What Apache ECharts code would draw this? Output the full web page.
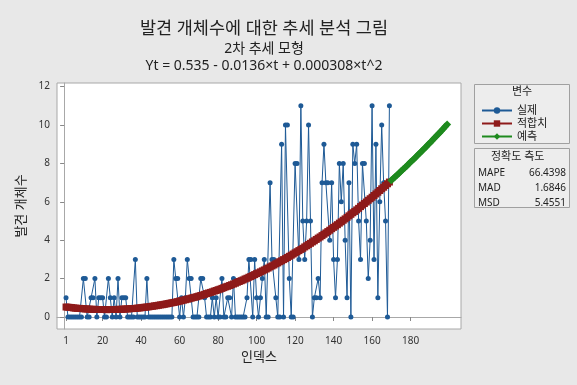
<!DOCTYPE html>
<html><head><meta charset="utf-8">
<script src="https://cdn.jsdelivr.net/npm/echarts@6/dist/echarts.min.js"></script>
<style>html,body{margin:0;padding:0;background:#E8E8E8;}#c{width:577px;height:385px;}</style>
</head><body><div id="c"></div>
<script>
// Observed counts, index 1..169
const actual = [
1,0,0,0,0,0,0,0,0,2, 2,0,0,1,1,2,0,1,1,1, 0,0,2,1,0,1,0,2,0,1,
1,1,0,0,0,0,3,0,0,0, 0,0,2,0,0,0,0,0,0,0, 0,0,0,0,0,0,3,2,2,0,
1,0,1,3,2,2,0,0,0,0, 2,2,1,0,0,0,1,0,1,0, 0,2,0,0,1,1,0,2,0,0,
0,0,0,0,1,3,3,0,3,1, 0,1,2,3,0,0,7,3,3,1, 0,0,9,0,10,10,2,0,0,8,
8,3,11,5,3,5,10,5,0,1, 1,2,1,7,9,7,7,4,7,3, 1,3,8,6,8,4,1,7,0,9,
8,9,5,3,8,8,5,2,4,11, 3,9,1,6,10,7,5,0,11
];
// Fitted trend values, index 1..169
const fitted = [
0.52,0.51,0.50,0.49,0.47,0.46,0.45,0.45,0.44,0.43,0.42,0.42,0.41,0.40,0.40,0.40,0.39,0.39,0.39,0.39,
0.39,0.38,0.39,0.39,0.39,0.39,0.39,0.40,0.40,0.40,0.41,0.42,0.42,0.43,0.44,0.44,0.45,0.46,0.47,0.48,
0.50,0.51,0.52,0.53,0.55,0.56,0.58,0.59,0.61,0.63,0.64,0.66,0.68,0.70,0.72,0.74,0.76,0.78,0.80,0.83,
0.85,0.88,0.90,0.93,0.95,0.98,1.01,1.03,1.06,1.09,1.12,1.15,1.18,1.22,1.25,1.28,1.31,1.35,1.38,1.42,
1.45,1.49,1.53,1.57,1.60,1.64,1.68,1.72,1.76,1.81,1.85,1.89,1.93,1.98,2.02,2.07,2.11,2.16,2.21,2.26,
2.30,2.35,2.40,2.45,2.50,2.55,2.61,2.66,2.71,2.77,2.82,2.88,2.93,2.99,3.04,3.10,3.16,3.22,3.28,3.34,
3.40,3.46,3.52,3.58,3.65,3.71,3.78,3.84,3.91,3.97,4.04,4.11,4.17,4.24,4.31,4.38,4.45,4.52,4.60,4.67,
4.74,4.81,4.89,4.96,5.04,5.11,5.19,5.27,5.35,5.43,5.50,5.58,5.66,5.75,5.83,5.91,5.99,6.08,6.16,6.24,
6.33,6.41,6.50,6.59,6.68,6.76,6.85,6.94,7.03
];
// Forecasts, index 170..199
const forecast = [
7.12,7.22,7.31,7.40,7.49,7.59,7.68,7.78,7.87,7.97,8.07,8.16,8.26,8.36,8.46,8.56,8.66,8.76,8.86,8.97,
9.07,9.17,9.28,9.38,9.49,9.59,9.70,9.81,9.92,10.03
];
const xTicks = [1,20,40,60,80,100,120,140,160,180];
const yTicks = [0,2,4,6,8,10,12];
const seriesNames = ['실제','적합치','예측'];
const accuracyNames = ['MAPE','MAD','MSD'];
const accuracyValues = ['66.4398','1.6846','5.4551'];

const FONT = "'Noto Sans','Noto Sans CJK KR',sans-serif";
const actualData = actual.map((v,i)=>[i+1,v]);
const fittedData = fitted.map((v,i)=>[i+1,v]);
const forecastData = forecast.map((v,i)=>[actual.length+1+i,v]);

const chart = echarts.init(document.getElementById('c'));
const accGraphics = [];
accuracyNames.forEach((n,i)=>{
  accGraphics.push({type:'text',left:478,top:168+i*15,style:{text:n,fontSize:10,fontFamily:FONT,fill:'#222'}});
  accGraphics.push({type:'text',right:11,top:168+i*15,style:{text:accuracyValues[i],fontSize:10,fontFamily:FONT,fill:'#222',align:'right'}});
});
chart.setOption({
  backgroundColor:'#E8E8E8',
  animation:false,
  title:[
    {text:'발견 개체수에 대한 추세 분석 그림',left:259,top:15,textAlign:'center',textStyle:{fontSize:17.5,fontWeight:'normal',color:'#222',fontFamily:FONT}},
    {text:'2차 추세 모형',left:259,top:37,textAlign:'center',textStyle:{fontSize:14,fontWeight:'normal',color:'#222',fontFamily:FONT}},
    {text:'Yt = 0.535 - 0.0136×t + 0.000308×t^2',left:259,top:54,textAlign:'center',textStyle:{fontSize:14,fontWeight:'normal',color:'#222',fontFamily:FONT}}
  ],
  grid:{left:57,right:116,top:83,bottom:56,show:true,backgroundColor:'#fff',borderColor:'#A8A8A8',borderWidth:1},
  xAxis:{type:'value',min:-3.7,max:206.2,name:'인덱스',nameLocation:'middle',nameGap:22,
    nameTextStyle:{fontSize:13,color:'#222',fontFamily:FONT},
    axisLine:{show:true,lineStyle:{color:'#A8A8A8'}},
    axisTick:{show:true,customValues:xTicks,length:4,inside:false,lineStyle:{color:'#888'}},
    axisLabel:{customValues:xTicks,fontSize:10,color:'#333',fontFamily:FONT,margin:7},
    splitLine:{show:false}},
  yAxis:{type:'value',min:-0.625,max:12.19,name:'발견 개체수',nameLocation:'middle',nameGap:28,
    nameTextStyle:{fontSize:13,color:'#222',fontFamily:FONT},
    axisLine:{show:true,lineStyle:{color:'#A8A8A8'}},
    axisTick:{show:true,customValues:yTicks,length:4,lineStyle:{color:'#888'}},
    axisLabel:{customValues:yTicks,fontSize:10,color:'#333',fontFamily:FONT,margin:7},
    splitLine:{show:false}},
  legend:{orient:'vertical',left:476,top:100,itemGap:2,itemWidth:30,itemHeight:8,
    data:seriesNames,textStyle:{fontSize:11,color:'#222',fontFamily:FONT},selectedMode:false},
  graphic:[
    {type:'rect',shape:{x:474.5,y:84.5,width:95,height:59},style:{fill:'#EDEDED',stroke:'#A0A0A0',lineWidth:1},z:-1},
    {type:'text',left:512,top:86,style:{text:'변수',fontSize:11,fontFamily:FONT,fill:'#222'}},
    {type:'rect',shape:{x:474.5,y:148.5,width:95,height:59},style:{fill:'#EDEDED',stroke:'#A0A0A0',lineWidth:1},z:-1},
    {type:'text',left:491,top:151,style:{text:'정확도 측도',fontSize:11,fontFamily:FONT,fill:'#222'}}
  ].concat(accGraphics),
  series:[
    {name:seriesNames[0],type:'line',data:actualData,symbol:'circle',symbolSize:5,showSymbol:true,
      itemStyle:{color:'#1E5A96'},lineStyle:{color:'#1E5A96',width:1},z:2},
    {name:seriesNames[1],type:'line',data:fittedData,symbol:'rect',symbolSize:7,
      itemStyle:{color:'#8E1A1A'},lineStyle:{color:'#8E1A1A',width:5},z:3},
    {name:seriesNames[2],type:'line',data:forecastData,symbol:'diamond',symbolSize:8,
      itemStyle:{color:'#1E8A1E'},lineStyle:{color:'#1E8A1E',width:5},z:3}
  ]
});
</script></body></html>
